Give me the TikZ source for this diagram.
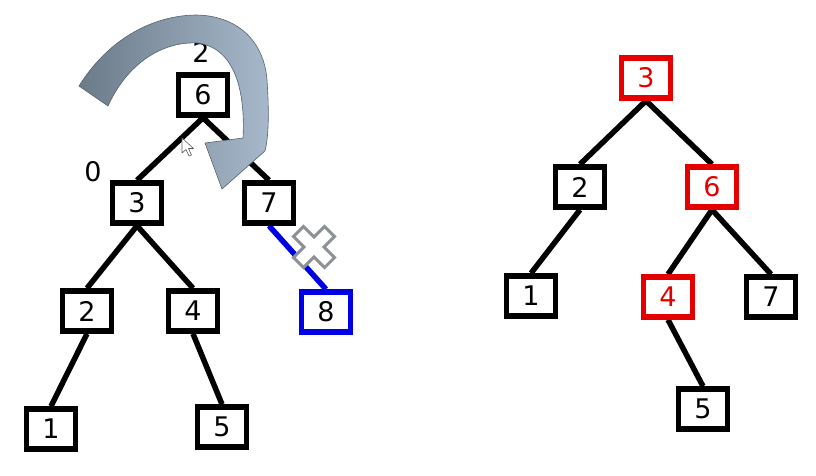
\documentclass[tikz,border=0pt]{standalone}
\usepackage{fontspec}
\setmainfont{DejaVu Sans}
\begin{document}
\begin{tikzpicture}[x=1pt,y=-1pt,
  tbox/.style={draw=black,line width=5.5pt,fill=white,minimum width=49pt,minimum height=40pt,inner sep=0pt,font=\fontsize{27}{30}\selectfont},
  rbox/.style={tbox,draw=red!90!black,text=red!90!black},
  bbox/.style={tbox,draw=blue!90!black},
  tedge/.style={line width=5.5pt,black},
  bedge/.style={line width=5.5pt,blue!90!black},
  lab/.style={font=\fontsize{27}{30}\selectfont,inner sep=0pt}]
\definecolor{arrowdark}{HTML}{6C7B8A}
\definecolor{arrowmid}{HTML}{7B8998}
\definecolor{arrowlight}{HTML}{A6B8CA}
\definecolor{xgray}{HTML}{8C9196}
\useasboundingbox (0,0) rectangle (816,475);
% left tree nodes
\node[tbox] (n6) at (203,95) {6};
\node[tbox] (n3) at (137,203) {3};
\node[tbox] (n7) at (269,203) {7};
\node[tbox] (n2) at (87,311) {2};
\node[tbox] (n4) at (193,311) {4};
\node[bbox] (n8) at (326,312) {8};
\node[tbox] (n1) at (51,429) {1};
\node[tbox] (n5) at (222,427) {5};
\node[lab] (l2) at (201,52) {2};
\node[lab] (l0) at (93,172) {0};
% left edges
\draw[tedge] (n6.south) -- (n3.north);
\draw[tedge] (n6.south) -- (n7.north);
\draw[tedge] (n3.south) -- (n2.north);
\draw[tedge] (n3.south) -- (n4.north);
\draw[tedge] (n2.south) -- (n1.north);
\draw[tedge] (n4.south) -- (n5.north);
\draw[bedge] (n7.south) -- (n8.north);
% redraw nodes over edges
\node[tbox] at (n6) {6};
\node[tbox] at (n3) {3};
\node[tbox] at (n7) {7};
\node[tbox] at (n2) {2};
\node[tbox] at (n4) {4};
\node[bbox] at (n8) {8};
\node[tbox] at (n1) {1};
\node[tbox] at (n5) {5};
% right tree
\node[rbox] (r3) at (646,78) {3};
\node[tbox] (r2) at (580,187) {2};
\node[rbox] (r6) at (712,187) {6};
\node[tbox] (r1) at (531,296) {1};
\node[rbox] (r4) at (668,297) {4};
\node[tbox] (r7) at (771,297) {7};
\node[tbox] (r5) at (703,409) {5};
\draw[tedge] (r3.south) -- (r2.north);
\draw[tedge] (r3.south) -- (r6.north);
\draw[tedge] (r2.south) -- (r1.north);
\draw[tedge] (r6.south) -- (r4.north);
\draw[tedge] (r6.south) -- (r7.north);
\draw[tedge] (r4.south) -- (r5.north);
\node[rbox] at (r3) {3};
\node[tbox] at (r2) {2};
\node[rbox] at (r6) {6};
\node[tbox] at (r1) {1};
\node[rbox] at (r4) {4};
\node[tbox] at (r7) {7};
\node[tbox] at (r5) {5};
% curved arrow
\shade[left color=arrowdark, middle color=arrowmid, right color=arrowlight, draw=arrowdark!80!black, line width=0.6pt]
  (79,86) .. controls (107,41) and (150,16) .. (195,15)
  .. controls (236,15) and (264,40) .. (267,80)
  .. controls (269,110) and (269,135) .. (265,151)
  -- (222,189) -- (205,143) -- (243,138)
  .. controls (245,100) and (239,49) .. (198,43)
  .. controls (160,41) and (126,66) .. (108,106) -- cycle;
% cross mark
\begin{scope}[shift={(314,247)},rotate=45]
\draw[xgray,line width=3pt,fill=white,line join=miter]
  (7,22) -- (7,7) -- (22,7) -- (22,-7) -- (7,-7) -- (7,-22) -- (-7,-22) -- (-7,-7) -- (-22,-7) -- (-22,7) -- (-7,7) -- (-7,22) -- cycle;
\end{scope}
% mouse cursor
\draw[gray!70!black,line width=0.6pt,fill=white,line join=round]
  (182,138) -- (182,153) -- (186,149.5) -- (189,156) -- (191.5,155) -- (188.5,148.5) -- (193.5,148.5) -- cycle;
\end{tikzpicture}
\end{document}
